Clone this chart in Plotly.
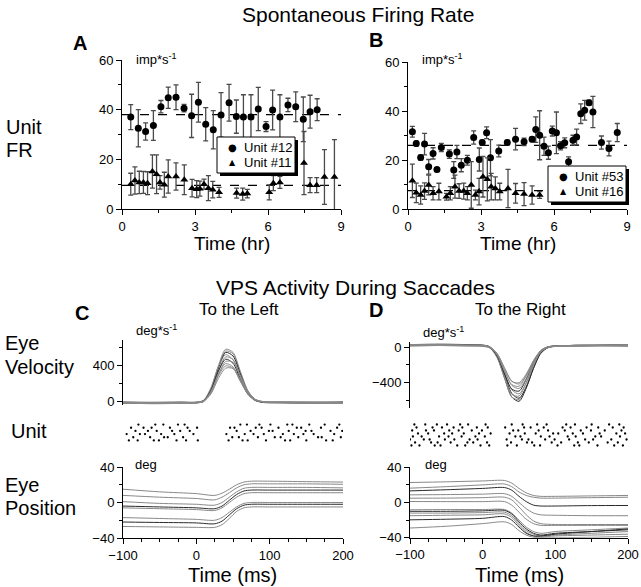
import plotly.graph_objects as go

W, H = 641, 587
FONT = "Arial, Liberation Sans, Helvetica, sans-serif"

# ---------------- Panel A: spontaneous firing rate ----------------
a12_t = [0.36, 0.67, 0.97, 1.29, 1.6, 1.9, 2.22, 2.55, 2.86, 3.14, 3.44, 3.75, 4.07,
         4.4, 4.7, 4.99, 5.3, 5.6, 5.92, 6.19, 6.49, 6.82, 7.14, 7.45, 7.73, 8.02]
a12_fr = [37, 32.5, 31.2, 33.6, 41.2, 44.8, 45, 40.6, 37.5, 43, 34.1, 31.9, 37.9,
          42.8, 37.2, 37, 37, 40.3, 33.2, 39.9, 37, 41.9, 41.2, 36.1, 39.2, 40]
a12_err = [5, 7.5, 3.5, 6, 2.5, 4.3, 5, 1.5, 8.7, 8, 6.7, 7.7, 9,
           7.4, 6.7, 9, 9, 8.7, 2, 8, 9, 2.7, 6, 9, 6.6, 4.4]
a12_mean = 38

a11_t = [0.36, 0.53, 0.71, 0.88, 1.05, 1.25, 1.42, 1.56, 1.74, 1.9, 2.22, 2.56, 2.88, 3.07, 3.2,
         3.37, 3.55, 3.73, 3.99, 4.71, 4.96, 5.15, 6.05, 6.22, 6.49, 7.48, 7.73, 8.0, 8.32, 8.73]
a11_fr = [10, 11.5, 10.7, 10.7, 10.4, 15.1, 14, 10.7, 9.8, 13.1, 13.1, 11.8, 8.4, 8, 8.2,
          10, 8.4, 7.8, 6.7, 6.4, 6, 6.2, 6.7, 10.4, 10.7, 18.5, 9.6, 9.6, 12.9, 12.9]
a11_err = [4.4, 5.5, 4.5, 4.4, 4.6, 6.7, 7.8, 2.7, 5, 6.7, 5.5, 6, 3.5, 3.4, 3,
           2, 5, 3.3, 2, 2, 2.4, 1.7, 3, 3, 2.4, 12.7, 3, 3, 11, 15]
a11_mean = 9.5

# ---------------- Panel B ----------------
b53_t = [0.18, 0.34, 0.52, 0.68, 0.85, 1.03, 1.19, 1.37, 1.7, 1.88, 2.01, 2.19, 2.44, 2.7,
         2.93, 3.05, 3.23, 3.39, 3.73, 4.08, 4.42, 4.77, 5.1, 5.25, 5.41, 5.59, 5.77, 5.93,
         6.1, 6.27, 6.44, 6.6, 6.78, 6.93, 7.1, 7.26, 7.44, 7.6, 7.95, 8.26, 8.6]
b53_fr = [31.5, 26.7, 21, 26.5, 17.2, 22.7, 16.1, 25.1, 22.4, 15.9, 23.3, 17.9, 19.9, 29.2,
          20.2, 27.1, 31.1, 20.9, 23.7, 27.1, 28.5, 27.4, 28.5, 32.4, 30.1, 25.6, 23, 31.8,
          31.1, 25.8, 27, 19.3, 28.1, 29.4, 38.9, 40.3, 43.4, 39.6, 27.1, 24.7, 31.2]
b53_err = [2.2, 1, 1, 4.4, 3, 2.3, 0.8, 1.7, 1.7, 3.4, 2.7, 2.7, 2, 2.7,
           4.7, 1, 2.4, 7.4, 2.4, 1, 4.4, 1.5, 1, 5.2, 10, 3.7, 2.7, 2,
           8.5, 1.7, 2, 2, 2, 3.2, 4, 4, 1, 6.4, 2.7, 3, 3.7]
b53_mean = 26

b16_t = [0.18, 0.34, 0.52, 0.68, 0.85, 1.03, 1.27, 1.58, 1.74, 1.93, 2.1, 2.29, 2.44,
         2.6, 2.77, 2.92, 3.08, 3.26, 3.42, 3.59, 3.77, 4.11, 4.42, 4.77, 5.1, 5.41]
b16_fr = [11.5, 6.6, 5.7, 7.3, 9.8, 6.4, 7.1, 5, 6.4, 9.1, 7.3, 7.3, 6.4,
          9.8, 5.7, 7.1, 13.2, 12.1, 9.1, 8.4, 7.1, 8.4, 6.4, 6.1, 5.7, 5.7]
b16_err = [6.8, 4, 3.7, 3.4, 4, 2.7, 3.4, 1.4, 2.7, 4.7, 3, 3.3, 2.7,
           9.5, 2, 5.4, 8.3, 8.8, 5.4, 4.7, 3.4, 7.8, 4, 4.7, 3.7, 1.4]
b16_mean = 7.5

hr_ticks = [0, 3, 6, 9]
fr_ticks = [0, 20, 40, 60]

# ---------------- Panel C / D: saccade traces ----------------
vel_t = [-100, -60, -20, 0, 10, 20, 30, 40, 50, 60, 70, 80, 90, 120, 160, 200]

c_vel = [
    [-20, -25, -15, -20, 0, 140, 390, 575, 540, 330, 120, 20, -10, -15, -20, -20],
    [-15, -20, -20, -15, 5, 130, 370, 555, 525, 320, 115, 15, -10, -15, -15, -20],
    [-25, -20, -20, -20, -5, 120, 360, 540, 500, 300, 100, 10, -15, -20, -25, -20],
    [-10, -15, -10, -15, 10, 150, 380, 515, 460, 260, 80, 5, -10, -10, -15, -15],
    [-20, -30, -25, -20, 0, 110, 330, 490, 460, 280, 110, 20, -5, -20, -25, -25],
    [-15, -15, -15, -15, 5, 120, 330, 465, 420, 240, 80, 10, -10, -15, -15, -10],
    [-20, -25, -20, -20, -5, 90, 290, 440, 430, 280, 110, 20, -10, -15, -20, -20],
    [-10, -20, -15, -10, 5, 110, 300, 415, 380, 220, 80, 10, -5, -10, -10, -15],
    [-25, -20, -25, -20, 0, 100, 280, 390, 365, 220, 90, 15, -10, -20, -25, -20],
    [-15, -20, -15, -15, 0, 80, 250, 365, 360, 240, 100, 20, -5, -10, -15, -15],
]
c_vel_dark = [False, False, True, False, False, True, False, False, False, False]

d_vel = [
    [25, 30, 25, 20, 0, -110, -340, -560, -610, -460, -230, -60, 0, 15, 20, 25],
    [20, 25, 20, 15, -5, -120, -350, -560, -590, -440, -210, -50, 5, 15, 20, 20],
    [30, 35, 30, 25, 5, -90, -300, -520, -575, -450, -240, -70, -5, 20, 25, 30],
    [15, 20, 15, 10, -10, -110, -330, -530, -550, -400, -190, -40, 5, 10, 15, 10],
    [25, 25, 20, 20, 0, -90, -290, -480, -525, -400, -200, -55, 0, 15, 20, 25],
    [20, 25, 25, 20, 0, -100, -300, -470, -495, -360, -170, -40, 5, 20, 20, 25],
    [30, 30, 25, 25, 5, -80, -260, -430, -465, -350, -180, -50, 0, 20, 25, 30],
    [20, 20, 15, 15, 0, -90, -270, -420, -440, -320, -150, -35, 5, 15, 20, 15],
    [25, 30, 25, 20, 0, -70, -230, -380, -415, -320, -170, -50, 0, 20, 25, 25],
    [15, 20, 20, 15, 0, -75, -240, -385, -400, -300, -150, -40, 0, 15, 15, 20],
]
d_vel_dark = [True, False, True, False, False, True, False, False, False, False]

c_pos_t = [-100, -50, 0, 25, 35, 45, 55, 65, 75, 100, 150, 200]
c_pos = [
    [15, 12, 10, 8, 10.5, 15, 20, 23, 24, 24, 23.5, 23],
    [8, 6, 4.5, 3, 6, 11, 16.5, 20, 21, 21, 21, 20.5],
    [1, -1, -2, -3, 0, 6, 12, 16, 17, 17, 17, 16.5],
    [-4, -5, -6, -7, -4, 2.5, 9, 13, 14, 14, 14, 14],
    [-6, -7, -8, -9, -6, 0, 6, 10, 11, 11, 11, 11],
    [-17, -18, -19, -20, -17, -11, -5, -1, 0, 0, 0, 0],
    [-22, -22.5, -23, -24, -21, -14, -7, -3, -2, -2, -2, -2],
    [-27, -27.5, -28, -28, -25, -18, -10, -6, -5, -5, -5, -5],
]
c_pos_dark = [False, False, False, True, False, False, True, False]

d_pos_t = [-100, -50, 0, 30, 40, 50, 60, 70, 80, 100, 150, 200]
d_pos = [
    [22.7, 23.5, 24.5, 25, 22, 16, 11, 8, 7, 7, 7.5, 8],
    [16.3, 18, 20, 21, 18, 12, 8, 6, 5, 5, 5.5, 6],
    [13.2, 14.5, 16, 17, 14, 7, 1, -3, -4, -4, -3.5, -3.4],
    [8.7, 9, 9.5, 10, 7, 0, -7, -12, -14, -14.5, -15, -15],
    [4.9, 5, 5.5, 6, 3, -5, -14, -21, -24, -25, -25, -25],
    [1.1, 1, 1, 1, -3, -11, -19, -24, -26, -26, -26, -26],
    [-8.3, -8, -8, -8, -12, -20, -28, -33, -35, -33, -31, -29],
    [-10, -10, -9.5, -9, -13, -22, -30, -35, -37, -35, -33, -31],
    [-12, -12, -11.5, -11, -15, -24, -32, -36, -38, -37, -35, -33],
    [-15, -14.5, -14, -13, -17, -26, -34, -38, -39, -38, -37, -36],
    [-19.7, -19, -18, -16, -20, -28, -35, -38, -38, -36, -33, -30],
    [-29, -27, -24, -22, -25, -32, -37, -39.5, -40, -40, -39.5, -38.6],
]
d_pos_dark = [False, False, True, False, False, False, False, True, False, False, True, False]

# spike times (ms) per trial row
c_spikes = [
    [-92, -80, -58, -51, -27, -14, 2, 44, 63, 70, 95, 121, 128, 150, 177, 186],
    [-86, -63, -44, -39, -18, 49, 58, 84, 107, 115, 139, 166, 171, 197],
    [-95, -77, -70, -48, -30, -4, 41, 66, 78, 92, 118, 133, 146, 160, 188],
    [-83, -66, -54, -33, -22, -9, 55, 74, 99, 104, 126, 149, 157, 183, 199],
    [-89, -72, -61, -36, -12, 1, 46, 52, 81, 89, 112, 137, 143, 170, 192],
    [-79, -56, -45, -25, -16, 60, 69, 86, 101, 124, 131, 154, 175, 195],
]
d_spikes = [
    [-98, -87, -66, -58, -35, -24, -3, 9, 34, 47, 71, 79, 103, 126, 133, 158, 181, 193],
    [-93, -71, -62, -44, -21, -13, 6, 39, 61, 68, 95, 108, 131, 146, 172, 186],
    [-100, -81, -73, -52, -39, -18, -7, 33, 54, 63, 86, 99, 119, 141, 152, 177, 198],
    [-96, -84, -60, -47, -29, -10, 3, 45, 52, 80, 92, 117, 128, 155, 163, 189],
    [-89, -75, -53, -42, -26, -5, 11, 37, 58, 73, 97, 104, 124, 138, 161, 184, 196],
    [-97, -78, -67, -46, -33, -15, -1, 42, 49, 77, 90, 113, 135, 149, 168, 191],
    [-91, -69, -56, -40, -28, -8, 7, 31, 57, 66, 84, 110, 121, 143, 159, 179, 194],
    [-94, -79, -63, -49, -31, -20, 4, 40, 55, 75, 88, 115, 127, 150, 174, 188],
]
ms_ticks = [-100, 0, 100, 200]

# ---------------- helpers ----------------
def px(x):
    return x / W


def py(y):
    return 1 - y / H


fig = go.Figure()
ERR_COL = "#4a4a4a"


def fr_series(t, fr, err, symbol, name, xa, ya):
    fig.add_trace(go.Scatter(
        x=t, y=fr, mode="markers", name=name, xaxis=xa, yaxis=ya, showlegend=False,
        marker=dict(symbol=symbol, size=7, color="black"),
        error_y=dict(type="data", array=err, visible=True, color=ERR_COL,
                     thickness=1.3, width=2.5)))


def mean_line(mean, xa, ya):
    fig.add_trace(go.Scatter(
        x=[hr_ticks[0], hr_ticks[-1]], y=[mean, mean], mode="lines", xaxis=xa, yaxis=ya,
        showlegend=False, hoverinfo="skip",
        line=dict(color="black", width=1.2, dash="dash")))


mean_line(a12_mean, "x", "y")
mean_line(a11_mean, "x", "y")
fr_series(a12_t, a12_fr, a12_err, "circle", "Unit #12", "x", "y")
fr_series(a11_t, a11_fr, a11_err, "triangle-up", "Unit #11", "x", "y")

mean_line(b53_mean, "x2", "y2")
mean_line(b16_mean, "x2", "y2")
fr_series(b53_t, b53_fr, b53_err, "circle", "Unit #53", "x2", "y2")
fr_series(b16_t, b16_fr, b16_err, "triangle-up", "Unit #16", "x2", "y2")


def traces(tt, rows, dark, xa, ya, w_gray=1.0, w_dark=1.0, gray="#8a8a8a"):
    for r, d in zip(rows, dark):
        fig.add_trace(go.Scatter(
            x=tt, y=r, mode="lines", xaxis=xa, yaxis=ya, showlegend=False,
            hoverinfo="skip",
            line=dict(color="#2a2a2a" if d else gray, width=w_dark if d else w_gray,
                      shape="spline", smoothing=0.8)))


def raster(rows, xa, ya):
    xs, ys = [], []
    for i, r in enumerate(rows):
        xs += r
        ys += [i + 1] * len(r)
    fig.add_trace(go.Scatter(x=xs, y=ys, mode="markers", xaxis=xa, yaxis=ya,
                             showlegend=False, hoverinfo="skip",
                             marker=dict(symbol="circle", size=2.3, color="black")))


traces(vel_t, c_vel, c_vel_dark, "x3", "y3")
raster(c_spikes, "x4", "y4")
traces(c_pos_t, c_pos, c_pos_dark, "x5", "y5", w_gray=0.9, w_dark=1.0, gray="#7a7a7a")
traces(vel_t, d_vel, d_vel_dark, "x6", "y6")
raster(d_spikes, "x7", "y7")
traces(d_pos_t, d_pos, d_pos_dark, "x8", "y8", w_gray=0.9, w_dark=1.0, gray="#7a7a7a")

# ---------------- axes ----------------
tickfont = dict(family=FONT, size=13, color="black")


def ax(domain, rng, tickvals=None, minor_dtick=None, show=True, anchor=None):
    d = dict(domain=domain, range=rng, showgrid=False, zeroline=False,
             fixedrange=True, automargin=False)
    if anchor:
        d["anchor"] = anchor
    if not show:
        d.update(visible=False)
        return d
    d.update(showline=True, linecolor="black", linewidth=1, ticks="outside",
             ticklen=5, tickwidth=1, tickcolor="black", tickfont=tickfont,
             tickmode="array", tickvals=tickvals)
    if minor_dtick:
        d["minor"] = dict(ticks="outside", ticklen=3, tickwidth=1, tickcolor="black",
                          dtick=minor_dtick, tick0=0, showgrid=False)
    return d


xA = [px(122), px(341)]
xB = [px(408), px(627)]
yAB = [py(209), py(60)]
yB = [py(209), py(62)]
xC = [px(123), px(343)]
xD = [px(410), px(628)]
yPos = [py(538), py(467)]
yPosD = [py(537.7), py(467.3)]

layout_axes = dict(
    xaxis=ax(xA, [0, 9], hr_ticks, 1.5, anchor="y"),
    yaxis=ax(yAB, [0, 60], fr_ticks, 10, anchor="x"),
    xaxis2=ax(xB, [0, 9], hr_ticks, 1.5, anchor="y2"),
    yaxis2=ax(yB, [0, 60], fr_ticks, 10, anchor="x2"),
    xaxis3=ax(xC, [-100, 200], show=False, anchor="y3"),
    yaxis3=ax([py(405), py(340)], [-44, 678], [0, 400], 200, anchor="x3"),
    xaxis4=ax(xC, [-100, 200], show=False, anchor="y4"),
    yaxis4=ax([py(442), py(423)], [0.5, 6.5], show=False, anchor="x4"),
    xaxis5=ax(xC, [-100, 200], ms_ticks, 25, anchor="y5"),
    yaxis5=ax(yPos, [-40, 40], [-40, 0, 40], 20, anchor="x5"),
    xaxis6=ax(xD, [-100, 200], show=False, anchor="y6"),
    yaxis6=ax([py(408.3), py(341.7)], [-689, 63], [-400, 0], 200, anchor="x6"),
    xaxis7=ax(xD, [-100, 200], show=False, anchor="y7"),
    yaxis7=ax([py(447), py(423)], [0.5, 8.5], show=False, anchor="x7"),
    xaxis8=ax(xD, [-100, 200], ms_ticks, 25, anchor="y8"),
    yaxis8=ax(yPosD, [-40, 40], [-40, 0, 40], 20, anchor="x8"),
)

# ---------------- annotations ----------------
ann = []


def text(t, x, y, size, xanchor="center", bold=False):
    ann.append(dict(text=("<b>%s</b>" % t) if bold else t, x=px(x), y=py(y),
                    xref="paper", yref="paper", xanchor=xanchor, yanchor="middle",
                    showarrow=False, font=dict(family=FONT, size=size, color="black")))


text("Spontaneous Firing Rate", 358, 14, 21)
text("A", 80.5, 42.5, 20, bold=True)
text("B", 375.5, 40, 20, bold=True)
text("Unit", 4, 127, 20, xanchor="left")
text("FR", 4, 150, 20, xanchor="left")
text("imp*s<sup>-1</sup>", 134, 59, 13, xanchor="left")
text("imp*s<sup>-1</sup>", 420, 59, 13, xanchor="left")
text("Time (hr)", 232, 243, 19)
text("Time (hr)", 518, 243, 19)
text("VPS Activity During Saccades", 355, 288, 21)
text("C", 81.5, 312.5, 20, bold=True)
text("D", 375.5, 310, 20, bold=True)
text("To the Left", 238.5, 309, 17)
text("To the Right", 520, 309, 17)
text("deg*s<sup>-1</sup>", 134, 330, 13, xanchor="left")
text("deg*s<sup>-1</sup>", 421, 332, 13, xanchor="left")
text("Eye", 3, 343, 20, xanchor="left")
text("Velocity", 3, 367, 20, xanchor="left")
text("Unit", 9, 431, 20, xanchor="left")
text("Eye", 3, 485, 20, xanchor="left")
text("Position", 3, 508, 20, xanchor="left")
text("deg", 133, 465, 13, xanchor="left")
text("deg", 423, 465, 13, xanchor="left")
text("Time (ms)", 232, 575, 20)
text("Time (ms)", 519, 575, 20)

# ---------------- legends (box with drop shadow) ----------------
shapes = []


def legend_box(x0, y0, x1, y1, names):
    shapes.append(dict(type="rect", xref="paper", yref="paper",
                       x0=px(x0 + 3), x1=px(x1 + 3), y0=py(y1 + 3), y1=py(y0 + 3),
                       fillcolor="black", line=dict(width=0), layer="above"))
    shapes.append(dict(type="rect", xref="paper", yref="paper",
                       x0=px(x0), x1=px(x1), y0=py(y1), y1=py(y0),
                       fillcolor="white", line=dict(color="black", width=1), layer="above"))
    rows = [(y0 + (y1 - y0) * 0.3), (y0 + (y1 - y0) * 0.7)]
    for (nm, glyph, gsize), yy in zip(names, rows):
        ann.append(dict(text=glyph, x=px(x0 + 15), y=py(yy), xref="paper", yref="paper",
                        xanchor="center", yanchor="middle", showarrow=False,
                        font=dict(family="DejaVu Sans", size=gsize, color="black")))
        text(nm, x0 + 25, yy, 13, xanchor="left")


legend_box(217, 137, 295, 173, [("Unit #12", "●", 10), ("Unit #11", "▲", 8)])
legend_box(548, 166, 626, 202, [("Unit #53", "●", 10), ("Unit #16", "▲", 8)])

fig.update_layout(
    width=W, height=H, margin=dict(l=0, r=0, t=0, b=0, autoexpand=False),
    paper_bgcolor="white", plot_bgcolor="rgba(0,0,0,0)",
    showlegend=False,
    annotations=ann, shapes=shapes,
    **layout_axes,
)

fig.write_html("out.html",
               config={"displayModeBar": False},
               post_script="document.body.style.margin='0';"
                           "document.body.style.overflow='hidden';")
